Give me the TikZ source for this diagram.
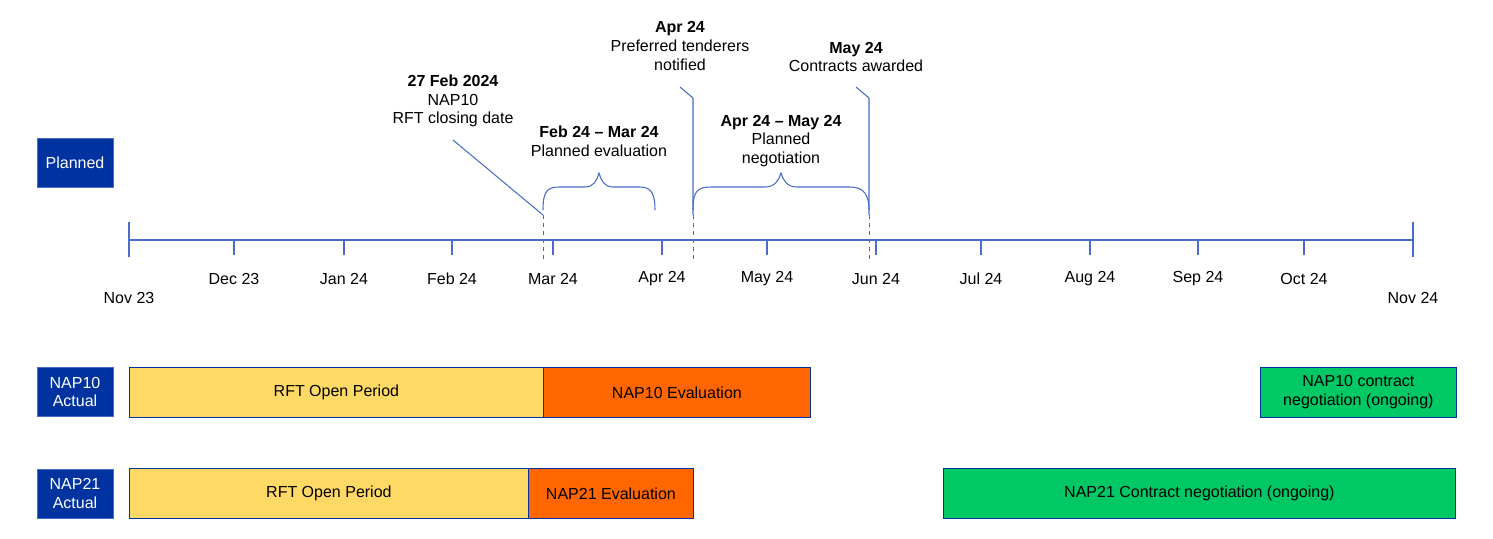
\documentclass[tikz,border=0pt]{standalone}
\usepackage{fontspec}
\setmainfont{Liberation Sans}
\usetikzlibrary{decorations.pathreplacing}
\definecolor{navy}{HTML}{0033A0}
\definecolor{axis}{HTML}{4A6CC8}
\definecolor{yel}{HTML}{FFD966}
\definecolor{org}{HTML}{FF6600}
\definecolor{grn}{HTML}{00C864}
\tikzset{
  lbl/.style={fill=navy,draw=axis,text=white,minimum width=57pt,minimum height=37pt,align=center,inner sep=0pt,font=\fontsize{12}{14}\selectfont},
  bar/.style={draw=navy,line width=0.6pt,anchor=north west,minimum height=37.5pt,inner sep=0pt,align=center,font=\fontsize{12}{14}\selectfont},
  ax/.style={draw=axis,line width=0.8pt},
  call/.style={align=center,font=\fontsize{12}{14}\selectfont,inner sep=0pt},
  mon/.style={font=\fontsize{12}{14}\selectfont,inner sep=0pt}
}
\begin{document}
\begin{tikzpicture}[x=0.75pt,y=-0.75pt]
\useasboundingbox (0,0) rectangle (1493,539);
% labels
\node[lbl] (pl) at (75,162.5) {Planned};
\node[lbl] (n10) at (75,392) {NAP10\\Actual};
\node[lbl] (n21) at (75,493.5) {NAP21\\Actual};
% axis
\coordinate (a0) at (129,240); \coordinate (a1) at (1413,240);
\draw[ax] (a0) -- (a1);
\draw[ax] (129,222) -- (129,257);
\draw[ax] (1413,222) -- (1413,257);
\foreach \x/\t in {234/Dec 23,344/Jan 24,452/Feb 24,553/Mar 24,662/Apr 24,767/May 24,876/Jun 24,981/Jul 24,1090/Aug 24,1198/Sep 24,1304/Oct 24}{
  \draw[ax] (\x,240) -- (\x,255);
  \node[mon] at (\x,279) {\t};
}
\node[mon] (nov23) at (129,298) {Nov 23};
\node[mon] (nov24) at (1413,298) {Nov 24};
% callouts
\node[call] (c1) at (453,101) {\textbf{27 Feb 2024}\\NAP10\\RFT closing date};
\draw[ax] (453,140) -- (543,215);
\draw[ax,dashed,line width=0.6pt] (543,215) -- (543,262);
\node[call] (c2) at (680,46) {\textbf{Apr 24}\\Preferred tenderers\\notified};
\draw[ax] (680,87) -- (693,98) -- (693,215);
\draw[ax,dashed,line width=0.6pt] (693,215) -- (693,262);
\node[call] (c3) at (856,57) {\textbf{May 24}\\Contracts awarded};
\draw[ax] (856,87) -- (869,98) -- (869,215);
\draw[ax,dashed,line width=0.6pt] (869,215) -- (869,262);
\node[call] (b1) at (599,141) {\textbf{Feb 24 – Mar 24}\\Planned evaluation};
\node[call] (b2) at (781,141) {\textbf{Apr 24 – May 24}\\Planned\\negotiation};
\draw[ax] (543,210) .. controls (543,190) and (548,187) .. (560,187) -- (585,187) .. controls (594,187) and (597,180) .. (599,173)
  .. controls (601,180) and (604,187) .. (613,187) -- (640,187) .. controls (652,187) and (655,195) .. (655,210);
\draw[ax] (693,210) .. controls (693,190) and (698,187) .. (712,187) -- (765,187) .. controls (775,187) and (779,180) .. (781,173)
  .. controls (783,180) and (787,187) .. (797,187) -- (850,187) .. controls (864,187) and (869,195) .. (869,210);
% bars
\node[bar,fill=yel,minimum width=310.5pt] (r10) at (129,367) {RFT Open Period};
\node[bar,fill=org,minimum width=200.25pt] (e10) at (543,367) {NAP10 Evaluation};
\node[bar,fill=grn,minimum width=147pt] (k10) at (1260,367) {NAP10 contract\\negotiation (ongoing)};
\node[bar,fill=yel,minimum width=299.25pt] (r21) at (129,468) {RFT Open Period};
\node[bar,fill=org,minimum width=123.75pt] (e21) at (528,468) {NAP21 Evaluation};
\node[bar,fill=grn,minimum width=384pt] (k21) at (943,468) {NAP21 Contract negotiation (ongoing)};
\end{tikzpicture}
\end{document}
